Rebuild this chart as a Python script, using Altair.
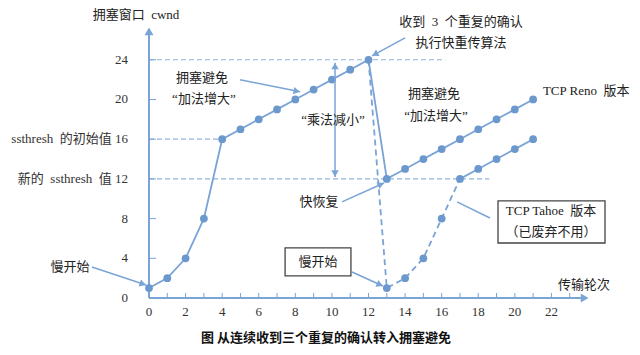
import math
import altair as alt
import pandas as pd

# ---------------- data ----------------
reno_rounds = [0, 1, 2, 3, 4, 5, 6, 7, 8, 9, 10, 11, 12, 13, 14, 15, 16, 17, 18, 19, 20, 21]
reno_cwnd = [1, 2, 4, 8, 16, 17, 18, 19, 20, 21, 22, 23, 24, 12, 13, 14, 15, 16, 17, 18, 19, 20]

tahoe_ss_rounds = [12, 13, 14, 15, 16, 17]
tahoe_ss_cwnd = [24, 1, 2, 4, 8, 12]
tahoe_ca_rounds = [17, 18, 19, 20, 21]
tahoe_ca_cwnd = [12, 13, 14, 15, 16]

thresh_values = [24, 16, 12]
thresh_ends = [16.2, 4, 18.6]

x_label_values = [0, 2, 4, 6, 8, 10, 12, 14, 16, 18, 20, 22]
x_label_texts = ["0", "2", "4", "6", "8", "10", "12", "14", "16", "18", "20", "22"]
x_minor_ticks = [1, 2, 3, 4, 5, 6, 7, 8, 9, 10, 11, 12, 13, 14, 15, 16, 17, 18, 19, 20, 21, 22, 23]
y_label_values = [0, 4, 8, 12, 16, 20, 24]
y_label_texts = ["0", "4", "8", "新的\u00a0\u00a0ssthresh\u00a0\u00a0值 12", "ssthresh\u00a0\u00a0的初始值 16", "20", "24"]
y_tick_values = [4, 8, 12, 16, 20, 24]

# annotation texts (x, y in data units)
notes = [
    ("拥塞窗口\u00a0\u00a0cwnd", -0.71, 28.5),
    ("收到\u00a0\u00a03\u00a0\u00a0个重复的确认", 17.06, 27.8),
    ("执行快重传算法", 17.06, 25.7),
    ("拥塞避免", 2.9, 22.2),
    ("“加法增大”", 3.0, 20.06),
    ("“乘法减小”", 10.06, 17.9),
    ("拥塞避免", 15.58, 20.56),
    ("“加法增大”", 15.69, 18.35),
    ("TCP Reno\u00a0\u00a0版本", 23.9, 20.87),
    ("快恢复", 9.3, 9.68),
    ("慢开始", -4.32, 3.13),
    ("慢开始", 9.24, 3.63),
    ("TCP Tahoe\u00a0\u00a0版本", 21.98, 8.77),
    ("（已废弃不用）", 21.98, 6.65),
    ("传输轮次", 23.78, 1.31),
]
title_note = ("图 从连续收到三个重复的确认转入拥塞避免", 9.68, -4.03)

# arrows (x1, y1) -> (x2, y2), with head flag
arrows = [
    (14.0, 26.2, 12.19, 24.4, True),
    (4.98, 21.98, 8.26, 20.77, True),
    (10.55, 9.68, 12.85, 11.59, True),
    (-3.12, 3.13, -0.16, 1.31, True),
    (11.1, 2.62, 12.79, 1.21, True),
    (18.64, 8.06, 16.84, 9.68, False),
    (10.17, 18.0, 10.17, 23.7, True),
    (10.17, 18.0, 10.17, 12.2, True),
]

boxes = [
    (7.44, 11.04, 5.04, 2.22),
    (19.08, 24.93, 9.78, 5.54),
]

# ---------------- layout / style ----------------
X_MAX, Y_MAX = 24, 27.2
W, H = 439, 270
PXU, PYU = W / X_MAX, H / Y_MAX

LINE = "#7aa3d6"
POINT = "#6b98cd"
DASH = "#93b3dc"
TXT = "#222222"
SERIF = "Liberation Serif, Noto Sans CJK SC"
CJK = "Noto Sans CJK SC"

xs = alt.Scale(domain=[0, X_MAX], nice=False, zero=False)
ys = alt.Scale(domain=[0, Y_MAX], nice=False, zero=False)


def X(f):
    return alt.X(f, type="quantitative", scale=xs, axis=None)


def Y(f):
    return alt.Y(f, type="quantitative", scale=ys, axis=None)


def X2(f):
    return alt.X2(f)


def Y2(f):
    return alt.Y2(f)


# threshold dashed lines
df_thr = pd.DataFrame({"y": thresh_values, "x": [0] * len(thresh_values), "x2": thresh_ends})
thr = alt.Chart(df_thr).mark_rule(color=DASH, strokeDash=[5, 3], strokeWidth=1.2).encode(
    x=X("x"), x2=X2("x2"), y=Y("y"))

# axes lines
head_back = 3.4
df_axes = pd.DataFrame({"x": [0, 0], "y": [0, 0], "x2": [X_MAX - 4 / PXU, 0], "y2": [0, Y_MAX - 4 / PYU]})
axes = alt.Chart(df_axes).mark_rule(color=LINE, strokeWidth=2).encode(
    x=X("x"), y=Y("y"), x2=X2("x2"), y2=Y2("y2"))
df_axhead = pd.DataFrame({"x": [X_MAX - head_back / PXU, 0], "y": [0, Y_MAX - head_back / PYU], "a": [90, 0]})
axhead = alt.Chart(df_axhead).mark_point(shape="triangle-up", filled=True, size=80, color=LINE, opacity=1).encode(
    x=X("x"), y=Y("y"), angle=alt.Angle("a:Q", scale=None))

# ticks
df_xt = pd.DataFrame({"x": x_minor_ticks, "y": [0] * len(x_minor_ticks), "y2": [5 / PYU] * len(x_minor_ticks)})
xt = alt.Chart(df_xt).mark_rule(color=LINE, strokeWidth=1).encode(x=X("x"), y=Y("y"), y2=Y2("y2"))
df_yt = pd.DataFrame({"y": y_tick_values, "x": [0] * len(y_tick_values), "x2": [7 / PXU] * len(y_tick_values)})
yt = alt.Chart(df_yt).mark_rule(color=LINE, strokeWidth=1).encode(y=Y("y"), x=X("x"), x2=X2("x2"))

# tick labels
df_xl = pd.DataFrame({"v": x_label_values, "t": x_label_texts})
xl = alt.Chart(df_xl).mark_text(font=SERIF, fontSize=13, color="#333333", baseline="middle", dy=14).encode(
    x=X("v"), y=alt.value(H), text="t:N")
df_yl = pd.DataFrame({"v": y_label_values, "t": y_label_texts})
yl = alt.Chart(df_yl).mark_text(font=SERIF, fontSize=13, color="#333333", baseline="middle", align="right", dx=-21).encode(
    x=alt.value(0), y=Y("v"), text="t:N")

# series lines
df_reno = pd.DataFrame({"x": reno_rounds, "y": reno_cwnd, "o": list(range(len(reno_rounds)))})
reno = alt.Chart(df_reno).mark_line(color=LINE, strokeWidth=1.8).encode(x=X("x"), y=Y("y"), order="o:Q")
df_tss = pd.DataFrame({"x": tahoe_ss_rounds, "y": tahoe_ss_cwnd, "o": list(range(len(tahoe_ss_rounds)))})
tss = alt.Chart(df_tss).mark_line(color=LINE, strokeWidth=1.8, strokeDash=[6, 4]).encode(x=X("x"), y=Y("y"), order="o:Q")
df_tca = pd.DataFrame({"x": tahoe_ca_rounds, "y": tahoe_ca_cwnd, "o": list(range(len(tahoe_ca_rounds)))})
tca = alt.Chart(df_tca).mark_line(color=LINE, strokeWidth=1.8).encode(x=X("x"), y=Y("y"), order="o:Q")

pts_x = reno_rounds + tahoe_ss_rounds[1:] + tahoe_ca_rounds[1:]
pts_y = reno_cwnd + tahoe_ss_cwnd[1:] + tahoe_ca_cwnd[1:]
df_pts = pd.DataFrame({"x": pts_x, "y": pts_y})
pts = alt.Chart(df_pts).mark_circle(color=POINT, size=60, opacity=1).encode(x=X("x"), y=Y("y"))

# white patch behind "乘法减小"
df_patch = pd.DataFrame({"x": [9.7], "x2": [10.6], "y": [18.85], "y2": [17.0]})
patch = alt.Chart(df_patch).mark_rect(color="white").encode(x=X("x"), x2=X2("x2"), y=Y("y"), y2=Y2("y2"))

# arrows
rows, heads = [], []
for x1, y1, x2, y2, has_head in arrows:
    rows.append({"x": x1, "y": y1, "x2": x2, "y2": y2})
    if has_head:
        dxp = (x2 - x1) * PXU
        dyp = -(y2 - y1) * PYU
        L = math.hypot(dxp, dyp)
        ux, uy = dxp / L, dyp / L
        ang = math.degrees(math.atan2(ux, -uy)) % 360
        heads.append({"x": x2 - ux * head_back / PXU, "y": y2 + uy * head_back / PYU, "a": ang})
arr = alt.Chart(pd.DataFrame(rows)).mark_rule(color=LINE, strokeWidth=1.5).encode(
    x=X("x"), y=Y("y"), x2=X2("x2"), y2=Y2("y2"))
arrh = alt.Chart(pd.DataFrame(heads)).mark_point(shape="triangle-up", filled=True, size=55, color=LINE, opacity=1).encode(
    x=X("x"), y=Y("y"), angle=alt.Angle("a:Q", scale=None))

# boxes
df_box = pd.DataFrame([{"x": b[0], "x2": b[1], "y": b[2], "y2": b[3]} for b in boxes])
box = alt.Chart(df_box).mark_rect(fill="white", stroke="#444444", strokeWidth=1.3).encode(
    x=X("x"), x2=X2("x2"), y=Y("y"), y2=Y2("y2"))

# texts
df_notes = pd.DataFrame([{"t": n[0], "x": n[1], "y": n[2]} for n in notes])
txt = alt.Chart(df_notes).mark_text(font=SERIF, fontSize=13, color=TXT, baseline="middle", align="center").encode(
    x=X("x"), y=Y("y"), text="t:N")
df_title = pd.DataFrame([{"t": title_note[0], "x": title_note[1], "y": title_note[2]}])
ttl = alt.Chart(df_title).mark_text(font=CJK, fontSize=13, fontWeight="bold", color="#111111", baseline="middle").encode(
    x=X("x"), y=Y("y"), text="t:N")

chart = alt.layer(
    thr, axes, xt, yt, axhead, xl, yl, reno, tss, tca, pts, patch, arr, arrh, box, txt, ttl
).properties(
    width=W, height=H,
    autosize=alt.AutoSizeParams(type="none"),
    padding={"left": 149, "top": 28, "right": 52, "bottom": 57},
    background="white",
).configure_view(stroke=None)

chart.save("out.html", embed_options={"renderer": "svg", "actions": False})
